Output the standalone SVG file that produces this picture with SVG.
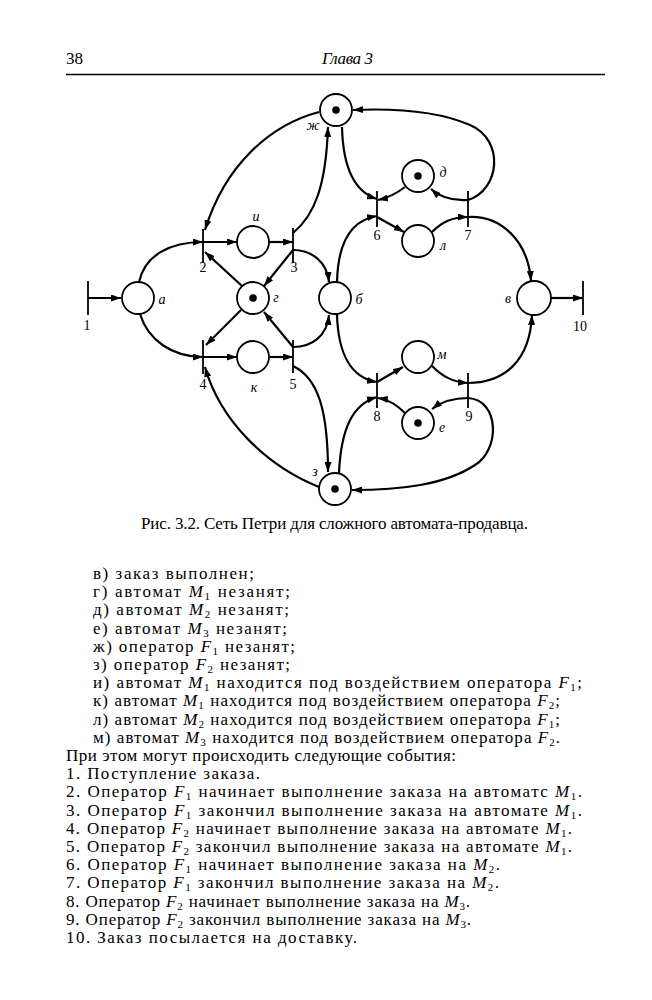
<svg xmlns="http://www.w3.org/2000/svg" width="652" height="1000" viewBox="0 0 652 1000">
<style>
.pl{fill:#fff;stroke:#000;stroke-width:1.8}
.tok{fill:#000}
.tr{stroke:#000;stroke-width:1.8}
.arc{fill:none;stroke:#000;stroke-width:2.2;marker-end:url(#ah)}
.lbl{font-family:"Liberation Serif",serif;font-style:italic;font-size:14px;fill:#000;text-anchor:middle}
.num{font-family:"Liberation Serif",serif;font-size:14px;fill:#000;text-anchor:middle}
.body{font-family:"Liberation Serif",serif;font-size:17px;fill:#000}
.it{font-style:italic}
.sub{font-size:11px}
</style>
<defs>
<marker id="ah" viewBox="0 0 10 7" refX="10" refY="3.5" markerWidth="10" markerHeight="7" markerUnits="userSpaceOnUse" orient="auto">
<path d="M0,0 L10,3.5 L0,7 z" fill="#000"/>
</marker>
</defs>
<rect width="652" height="1000" fill="#fff"/>
<g id="header">
<text x="66" y="64" class="body" font-size="15">38</text>
<text x="322" y="64" class="body it" font-size="15" textLength="51" lengthAdjust="spacing">Глава 3</text>
<line x1="66" y1="74.5" x2="605" y2="74.5" stroke="#000" stroke-width="1.6"/>
</g>
<g id="connectors">
<path class="arc" d="M88,298 L121,298"/>
<path class="arc" d="M139,282 C145,255 170,242 203,242"/>
<path class="arc" d="M203,242 L237,242"/>
<path class="arc" d="M269,242 L293,242"/>
<path class="arc" d="M242,286 L205,252"/>
<path class="arc" d="M293,250 L264,286"/>
<path class="arc" d="M293,250 C312,250 327,262 329,282"/>
<path class="arc" d="M293,233 C315,215 326,185 328,127"/>
<path class="arc" d="M319,112 C270,125 225,165 205,230"/>
<path class="arc" d="M342,127 C343,170 355,192 377,199"/>
<path class="arc" d="M405,187 Q392,197 378,200"/>
<path class="arc" d="M468,200 C452,201 440,197 431,189"/>
<path class="arc" d="M468,200 C500,190 505,140 470,125 C440,112 400,108 353,110"/>
<path class="arc" d="M337,282 C338,240 352,220 377,216"/>
<path class="arc" d="M377,217 L404,232"/>
<path class="arc" d="M432,232 C442,222 452,217 468,217"/>
<path class="arc" d="M468,217 C500,215 528,240 531,281"/>
<path class="arc" d="M551,298 L583,298"/>
<path class="arc" d="M140,314 C148,340 172,357 203,357"/>
<path class="arc" d="M203,357 L237,357"/>
<path class="arc" d="M270,357 L293,357"/>
<path class="arc" d="M241,310 L206,345"/>
<path class="arc" d="M293,347 L264,312"/>
<path class="arc" d="M293,347 C312,347 327,336 329,315"/>
<path class="arc" d="M293,366 C318,378 328,410 328,472"/>
<path class="arc" d="M319,487 C265,465 220,420 205,367"/>
<path class="arc" d="M339,473 C341,428 353,404 377,397"/>
<path class="arc" d="M405,413 Q392,400 378,398"/>
<path class="arc" d="M468,398 C452,398 441,402 432,409"/>
<path class="arc" d="M468,398 C500,400 500,450 475,465 C445,485 400,490 352,490"/>
<path class="arc" d="M337,314 C338,355 352,378 377,382"/>
<path class="arc" d="M377,382 L403,367"/>
<path class="arc" d="M432,366 C442,376 452,382 468,383"/>
<path class="arc" d="M468,383 C505,383 530,360 532,315"/>
</g>
<g id="place-zh"><circle class="pl" cx="336" cy="110" r="16"/><circle class="tok" cx="336" cy="110" r="3.8"/><text class="lbl" x="313" y="130">ж</text></g>
<g id="place-i"><circle class="pl" cx="253" cy="242" r="16"/><text class="lbl" x="256" y="221">и</text></g>
<g id="place-g"><circle class="pl" cx="253" cy="298" r="16"/><circle class="tok" cx="253" cy="298" r="3.8"/><text class="lbl" x="276" y="302">г</text></g>
<g id="place-a"><circle class="pl" cx="138" cy="298" r="16"/><text class="lbl" x="162" y="304">а</text></g>
<g id="place-b"><circle class="pl" cx="335" cy="298" r="16"/><text class="lbl" x="359" y="304">б</text></g>
<g id="place-k"><circle class="pl" cx="253" cy="357" r="16"/><text class="lbl" x="254" y="392">к</text></g>
<g id="place-z"><circle class="pl" cx="335" cy="489" r="16"/><circle class="tok" cx="335" cy="489" r="3.8"/><text class="lbl" x="315" y="476">з</text></g>
<g id="place-d"><circle class="pl" cx="418" cy="176" r="16"/><circle class="tok" cx="418" cy="176" r="3.8"/><text class="lbl" x="443" y="177">д</text></g>
<g id="place-l"><circle class="pl" cx="418" cy="241" r="16"/><text class="lbl" x="443" y="250">л</text></g>
<g id="place-v"><circle class="pl" cx="534" cy="298" r="17"/><text class="lbl" x="508" y="303">в</text></g>
<g id="place-m"><circle class="pl" cx="418" cy="357" r="16"/><text class="lbl" x="442" y="359">м</text></g>
<g id="place-e"><circle class="pl" cx="418" cy="423" r="16"/><circle class="tok" cx="418" cy="423" r="3.8"/><text class="lbl" x="442" y="432">е</text></g>
<g id="t1"><line class="tr" x1="88" y1="281" x2="88" y2="315"/><text class="num" x="87" y="330">1</text></g>
<g id="t2"><line class="tr" x1="203" y1="229" x2="203" y2="263"/><text class="num" x="203" y="272">2</text></g>
<g id="t3"><line class="tr" x1="293" y1="228" x2="293" y2="263"/><text class="num" x="294" y="272">3</text></g>
<g id="t4"><line class="tr" x1="203" y1="340" x2="203" y2="374"/><text class="num" x="203" y="389">4</text></g>
<g id="t5"><line class="tr" x1="293" y1="340" x2="293" y2="373"/><text class="num" x="293" y="389">5</text></g>
<g id="t6"><line class="tr" x1="377" y1="191" x2="377" y2="227"/><text class="num" x="377" y="240">6</text></g>
<g id="t7"><line class="tr" x1="468" y1="191" x2="468" y2="227"/><text class="num" x="468" y="240">7</text></g>
<g id="t8"><line class="tr" x1="377" y1="373" x2="377" y2="408"/><text class="num" x="377" y="421">8</text></g>
<g id="t9"><line class="tr" x1="468" y1="373" x2="468" y2="408"/><text class="num" x="469" y="421">9</text></g>
<g id="t10"><line class="tr" x1="583" y1="281" x2="583" y2="315"/><text class="num" x="580" y="331">10</text></g>
<g id="caption">
<text class="body" x="141" y="529" font-size="14" textLength="387" lengthAdjust="spacing">Рис. 3.2.  Сеть Петри для сложного автомата-продавца.</text>
</g>
<g id="text">
<text class="body" x="93" y="579" textLength="161" lengthAdjust="spacing">в) заказ  выполнен;</text>
<text class="body" x="93" y="597.2" textLength="197" lengthAdjust="spacing">г) автомат <tspan class="it">M</tspan><tspan class="sub" dy="3">1</tspan><tspan dy="-3"> незанят;</tspan></text>
<text class="body" x="93" y="615.4" textLength="196" lengthAdjust="spacing">д) автомат <tspan class="it">M</tspan><tspan class="sub" dy="3">2</tspan><tspan dy="-3"> незанят;</tspan></text>
<text class="body" x="93" y="633.6" textLength="194" lengthAdjust="spacing">е) автомат <tspan class="it">M</tspan><tspan class="sub" dy="3">3</tspan><tspan dy="-3"> незанят;</tspan></text>
<text class="body" x="93" y="651.8" textLength="202" lengthAdjust="spacing">ж) оператор <tspan class="it">F</tspan><tspan class="sub" dy="3">1</tspan><tspan dy="-3"> незанят;</tspan></text>
<text class="body" x="93" y="670" textLength="197" lengthAdjust="spacing">з) оператор <tspan class="it">F</tspan><tspan class="sub" dy="3">2</tspan><tspan dy="-3"> незанят;</tspan></text>
<text class="body" x="93" y="688.2" textLength="489" lengthAdjust="spacing">и) автомат <tspan class="it">M</tspan><tspan class="sub" dy="3">1</tspan><tspan dy="-3"> находится под воздействием оператора </tspan><tspan class="it">F</tspan><tspan class="sub" dy="3">1</tspan><tspan dy="-3">;</tspan></text>
<text class="body" x="93" y="706.4" textLength="467" lengthAdjust="spacing">к) автомат <tspan class="it">M</tspan><tspan class="sub" dy="3">1</tspan><tspan dy="-3"> находится под воздействием оператора </tspan><tspan class="it">F</tspan><tspan class="sub" dy="3">2</tspan><tspan dy="-3">;</tspan></text>
<text class="body" x="93" y="724.6" textLength="467" lengthAdjust="spacing">л) автомат <tspan class="it">M</tspan><tspan class="sub" dy="3">2</tspan><tspan dy="-3"> находится под воздействием оператора </tspan><tspan class="it">F</tspan><tspan class="sub" dy="3">1</tspan><tspan dy="-3">;</tspan></text>
<text class="body" x="93" y="742.8" textLength="467" lengthAdjust="spacing">м) автомат <tspan class="it">M</tspan><tspan class="sub" dy="3">3</tspan><tspan dy="-3"> находится под воздействием оператора </tspan><tspan class="it">F</tspan><tspan class="sub" dy="3">2</tspan><tspan dy="-3">.</tspan></text>
<text class="body" x="66" y="761" textLength="390" lengthAdjust="spacing">При этом могут происходить следующие события:</text>
<text class="body" x="66" y="779.2" textLength="194" lengthAdjust="spacing">1. Поступление заказа.</text>
<text class="body" x="66" y="797.4" textLength="516" lengthAdjust="spacing">2. Оператор <tspan class="it">F</tspan><tspan class="sub" dy="3">1</tspan><tspan dy="-3"> начинает выполнение заказа на автоматс </tspan><tspan class="it">M</tspan><tspan class="sub" dy="3">1</tspan><tspan dy="-3">.</tspan></text>
<text class="body" x="66" y="815.6" textLength="516" lengthAdjust="spacing">3. Оператор <tspan class="it">F</tspan><tspan class="sub" dy="3">1</tspan><tspan dy="-3"> закончил выполнение заказа на автомате </tspan><tspan class="it">M</tspan><tspan class="sub" dy="3">1</tspan><tspan dy="-3">.</tspan></text>
<text class="body" x="66" y="833.8" textLength="506" lengthAdjust="spacing">4. Оператор <tspan class="it">F</tspan><tspan class="sub" dy="3">2</tspan><tspan dy="-3"> начинает выполнение заказа на автомате </tspan><tspan class="it">M</tspan><tspan class="sub" dy="3">1</tspan><tspan dy="-3">.</tspan></text>
<text class="body" x="66" y="852" textLength="506" lengthAdjust="spacing">5. Оператор <tspan class="it">F</tspan><tspan class="sub" dy="3">2</tspan><tspan dy="-3"> закончил выполнение заказа на автомате </tspan><tspan class="it">M</tspan><tspan class="sub" dy="3">1</tspan><tspan dy="-3">.</tspan></text>
<text class="body" x="66" y="870.2" textLength="434" lengthAdjust="spacing">6. Оператор <tspan class="it">F</tspan><tspan class="sub" dy="3">1</tspan><tspan dy="-3"> начинает выполнение заказа на </tspan><tspan class="it">M</tspan><tspan class="sub" dy="3">2</tspan><tspan dy="-3">.</tspan></text>
<text class="body" x="66" y="888.4" textLength="433" lengthAdjust="spacing">7. Оператор <tspan class="it">F</tspan><tspan class="sub" dy="3">1</tspan><tspan dy="-3"> закончил выполнение заказа на </tspan><tspan class="it">M</tspan><tspan class="sub" dy="3">2</tspan><tspan dy="-3">.</tspan></text>
<text class="body" x="66" y="906.6" textLength="404" lengthAdjust="spacing">8. Оператор <tspan class="it">F</tspan><tspan class="sub" dy="3">2</tspan><tspan dy="-3"> начинает выполнение заказа на </tspan><tspan class="it">M</tspan><tspan class="sub" dy="3">3</tspan><tspan dy="-3">.</tspan></text>
<text class="body" x="66" y="924.8" textLength="405" lengthAdjust="spacing">9. Оператор <tspan class="it">F</tspan><tspan class="sub" dy="3">2</tspan><tspan dy="-3"> закончил выполнение заказа на </tspan><tspan class="it">M</tspan><tspan class="sub" dy="3">3</tspan><tspan dy="-3">.</tspan></text>
<text class="body" x="66" y="943" textLength="291" lengthAdjust="spacing">10. Заказ посылается на доставку.</text>
</g>
</svg>
